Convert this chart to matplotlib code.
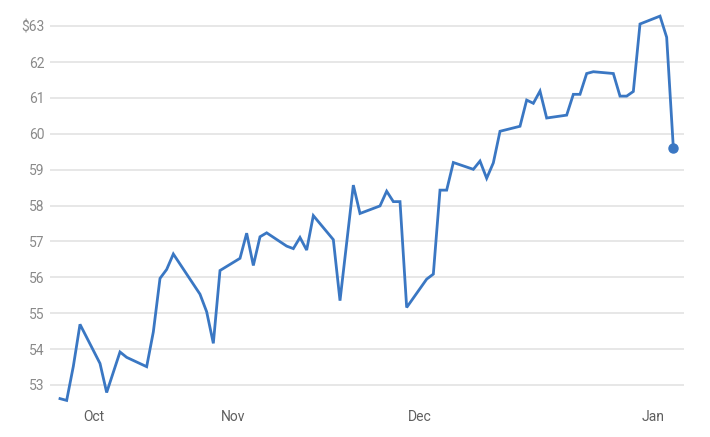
import matplotlib
matplotlib.use("Agg")
import matplotlib.pyplot as plt
from matplotlib.ticker import FuncFormatter, FixedLocator

# Trading-day offsets (calendar days from the first point) and closing prices
days = [0, 1, 2, 3, 6, 7, 9, 10, 13, 14, 15, 16, 17, 21, 22, 23, 24, 27, 28, 29,
        30, 31, 34, 35, 36, 37, 38, 41, 42, 44, 45, 48, 49, 50, 51, 52, 55, 56,
        57, 58, 59, 62, 63, 64, 65, 66, 69, 70, 71, 72, 73, 76, 77, 78, 79, 80,
        83, 84, 85, 86, 87, 90, 91, 92]
prices = [52.62, 52.57, 53.52, 54.69, 53.60, 52.79, 53.92, 53.77, 53.51, 54.48,
          55.97, 56.22, 56.65, 55.53, 55.04, 54.16, 56.19, 56.53, 57.23, 56.33,
          57.13, 57.24, 56.87, 56.80, 57.11, 56.76, 57.72, 57.05, 55.35, 58.57,
          57.78, 57.99, 58.40, 58.11, 58.11, 55.16, 55.95, 56.09, 58.43, 58.43,
          59.20, 59.01, 59.24, 58.76, 59.19, 60.07, 60.21, 60.94, 60.85, 61.19,
          60.44, 60.52, 61.10, 61.10, 61.68, 61.73, 61.68, 61.05, 61.05, 61.18,
          63.06, 63.28, 62.69, 59.61]

month_tick_days = [5, 26, 54, 89]
month_labels = ["Oct", "Nov", "Dec", "Jan"]
y_ticks = [53, 54, 55, 56, 57, 58, 59, 60, 61, 62, 63]

line_color = "#3a77c3"

plt.rcParams['font.family'] = ['Roboto', 'DejaVu Sans']

fig = plt.figure(figsize=(7.10, 4.37), dpi=100)
ax = fig.add_axes([50 / 710, 1 - 404 / 437, 634 / 710, 394 / 437])

ax.plot(days, prices, color=line_color, linewidth=2.0, solid_joinstyle="miter",
        clip_on=False, zorder=3)
ax.plot([days[-1]], [prices[-1]], "o", color=line_color, markersize=6.5,
        clip_on=False, zorder=4)

ax.set_xlim(-1.5, 93.6)
ax.set_ylim(52.47, 63.45)

ax.yaxis.set_major_locator(FixedLocator(y_ticks))
ax.yaxis.set_major_formatter(FuncFormatter(
    lambda v, p: f"${v:.0f}" if v == max(y_ticks) else f"{v:.0f}"))
ax.xaxis.set_major_locator(FixedLocator(month_tick_days))
ax.set_xticklabels(month_labels)

ax.grid(axis="y", color="#e0e0e0", linewidth=1.1)
ax.grid(axis="x", visible=False)
ax.set_axisbelow(True)
for s in ax.spines.values():
    s.set_visible(False)

ax.tick_params(axis="y", length=0, pad=4, labelsize=10, labelcolor="#8a8a8a")
ax.tick_params(axis="x", length=0, pad=4, labelsize=10, labelcolor="#5f5f5f")

fig.savefig("out.png", dpi=100, facecolor="white")
